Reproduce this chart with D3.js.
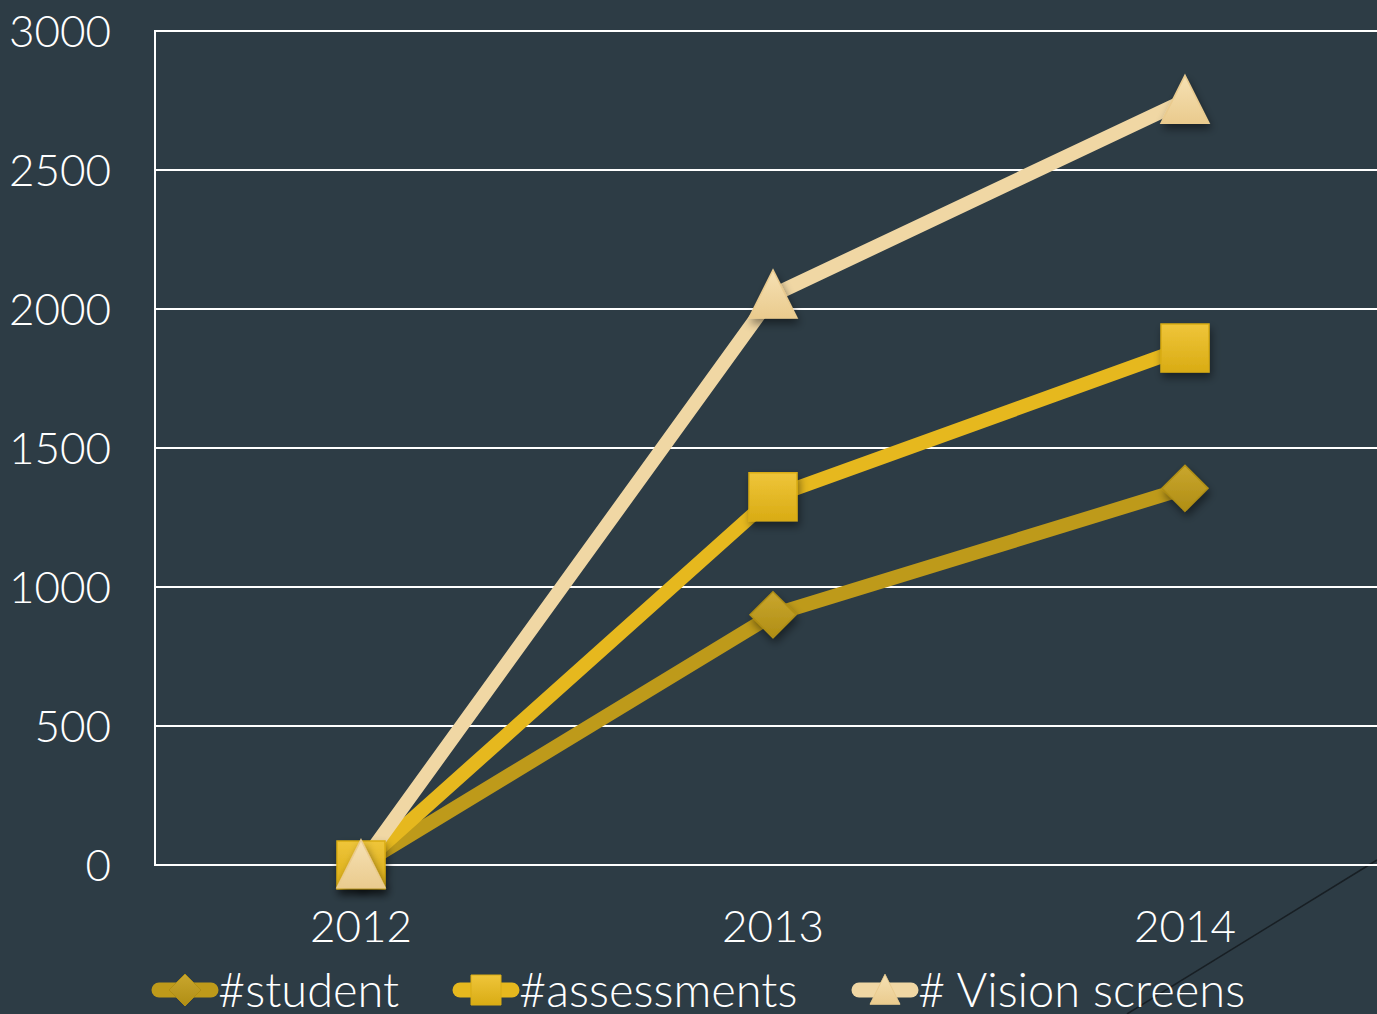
<!DOCTYPE html>
<html><head><meta charset="utf-8">
<script src="https://cdn.jsdelivr.net/npm/d3@7"></script>
<style>
html,body{margin:0;padding:0;background:#2D3C45;overflow:hidden;}
svg{display:block;}
text{font-family:"Lato","Open Sans",sans-serif;fill:#fff;font-weight:300;}
</style></head><body>
<svg id="c" width="1377" height="1014"></svg>
<script>
const categories = ["2012","2013","2014"];
const seriesNames = ["#student","#assessments","# Vision screens"];
const studentValues = [0, 900, 1355];
const assessmentValues = [0, 1325, 1860];
const visionValues = [0, 2050, 2750];
const yTicks = [0,500,1000,1500,2000,2500,3000];

const colors = ["#BE9A1A","#E6B81E","#F0D7A4"];
const lights = ["#C9A62E","#EFC53A","#F6E1B4"];
const darks  = ["#B08E14","#D9AC14","#EACB8E"];
const shapes = ["diamond","square","triangle"];
const series = [studentValues, assessmentValues, visionValues];

const svg = d3.select("#c");
const W=1377,H=1014;
const mLeft=155, mTop=31, mBottom=865;
const x = d3.scaleBand().domain(categories).range([mLeft, mLeft+3*412]).paddingInner(0).paddingOuter(0);
const y = d3.scaleLinear().domain([0,3000]).range([mBottom, mTop]);

const defs = svg.append("defs");
colors.forEach((c,i)=>{
  const g = defs.append("linearGradient").attr("id","g"+i).attr("x1",0).attr("y1",0).attr("x2",0).attr("y2",1);
  g.append("stop").attr("offset","0%").attr("stop-color",lights[i]);
  g.append("stop").attr("offset","100%").attr("stop-color",darks[i]);
});
const f = defs.append("filter").attr("id","sh").attr("x","-50%").attr("y","-50%").attr("width","200%").attr("height","200%");
f.append("feDropShadow").attr("dx",2).attr("dy",5).attr("stdDeviation",4).attr("flood-color","#000").attr("flood-opacity",0.45);

// decorative diagonal
svg.append("line").attr("x1",1127).attr("y1",1014).attr("x2",1377).attr("y2",860)
  .attr("stroke","#181F24").attr("stroke-width",1.5);

// gridlines
svg.append("g").selectAll("line").data(yTicks).join("line")
  .attr("x1",mLeft).attr("x2",W).attr("y1",d=>y(d)).attr("y2",d=>y(d))
  .attr("stroke","#fff").attr("stroke-width",2);
svg.append("line").attr("x1",mLeft).attr("x2",mLeft).attr("y1",mTop-1).attr("y2",mBottom+1)
  .attr("stroke","#fff").attr("stroke-width",2);

// y labels
svg.append("g").selectAll("text").data(yTicks).join("text")
  .attr("x",111).attr("y",d=>y(d)).attr("dy","0.36em").attr("text-anchor","end")
  .attr("font-size",44).text(d=>d);
// x labels
svg.append("g").selectAll("text").data(categories).join("text")
  .attr("x",d=>x(d)+x.bandwidth()/2).attr("y",926).attr("dy","0.36em").attr("text-anchor","middle")
  .attr("font-size",44).text(d=>d);

function shapePath(s, sz){
  const h=sz/2;
  if(s==="square") return `M${-h},${-h}H${h}V${h}H${-h}Z`;
  if(s==="diamond") return `M0,${-h}L${h},0L0,${h}L${-h},0Z`;
  return `M0,${-h*1.05}L${h},${h*0.95}H${-h}Z`;
}
const sizes = {diamond:46, square:48, triangle:48};

const line = d3.line().x((d,i)=>x(categories[i])+x.bandwidth()/2).y(d=>y(d));
series.forEach((vals,i)=>{
  svg.append("path").datum(vals).attr("d",line).attr("fill","none")
    .attr("stroke",colors[i]).attr("stroke-width",14).attr("stroke-linejoin","miter");
});
series.forEach((vals,i)=>{
  svg.append("g").selectAll("path").data(vals).join("path")
    .attr("transform",(d,j)=>`translate(${x(categories[j])+x.bandwidth()/2},${y(d)})`)
    .attr("d",shapePath(shapes[i],sizes[shapes[i]]))
    .attr("fill",`url(#g${i})`).attr("stroke",darks[i]).attr("stroke-width",1.5)
    .attr("filter","url(#sh)");
});

// legend
const legendX = [152,453,852];
const lg = svg.append("g");
seriesNames.forEach((n,i)=>{
  const x0 = legendX[i], cy=990;
  lg.append("line").attr("x1",x0+7).attr("x2",x0+59).attr("y1",cy).attr("y2",cy)
    .attr("stroke",colors[i]).attr("stroke-width",15).attr("stroke-linecap","round");
  lg.append("path").attr("transform",`translate(${x0+33},${cy})`)
    .attr("d",shapePath(shapes[i],shapes[i]==="diamond"?32:30))
    .attr("fill",`url(#g${i})`).attr("stroke",darks[i]).attr("stroke-width",1);
  lg.append("text").attr("x",x0+66).attr("y",cy).attr("dy","0.36em").attr("font-size",47).text(n);
});
</script></body></html>
